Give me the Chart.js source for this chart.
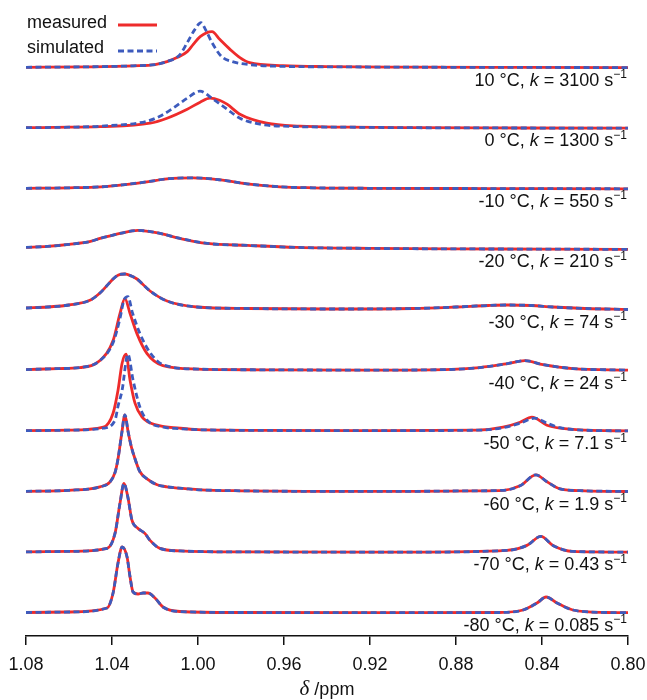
<!DOCTYPE html>
<html>
<head>
<meta charset="utf-8">
<script src="https://cdn.jsdelivr.net/npm/chart.js@4.4.1/dist/chart.umd.min.js"></script>
<style>
  body { margin: 0; background: #fff; }
</style>
</head>
<body>
<canvas id="nmrChart" width="647" height="700"></canvas>
<script>
// temperatures and exchange rates, top trace first
const temps = ['10', '0', '-10', '-20', '-30', '-40', '-50', '-60', '-70', '-80'];
const rates = ['3100', '1300', '550', '210', '74', '24', '7.1', '1.9', '0.43', '0.085'];
const xTicks = [0.80, 0.84, 0.88, 0.92, 0.96, 1.00, 1.04, 1.08];

// chemical shift (ppm) and signal height for each trace
const ppmMeas10 = [1.08, 1.05, 1.03, 1.02, 1.0144, 1.0098, 1.005, 1.0023, 0.999, 0.9935, 0.9898, 0.985, 0.9805, 0.976, 0.9605, 0.94, 0.90, 0.85, 0.80];
const meas10 = [0.3, 0.8, 1.8, 3, 6, 10, 16, 23, 31, 36, 28, 18, 10, 5, 2, 1, 0.5, 0.2, 0];
const ppmSim10 = [1.08, 1.05, 1.03, 1.02, 1.0144, 1.0084, 1.005, 1.0015, 0.9986, 0.9965, 0.9935, 0.989, 0.984, 0.976, 0.96, 0.94, 0.90, 0.85, 0.80];
const sim10 = [0.3, 0.8, 1.8, 3, 6, 13, 25, 38, 45, 38, 25, 11, 6, 3, 1.2, 0.8, 0.4, 0.2, 0];

const ppmMeas0 = [1.08, 1.06, 1.0456, 1.0223, 1.0144, 1.005, 0.999, 0.9944, 0.990, 0.9865, 0.9805, 0.968, 0.9526, 0.93, 0.90, 0.85, 0.80];
const meas0 = [0.5, 1, 1.5, 5, 10, 19, 26, 30, 28, 24, 14, 5, 2, 1, 0.5, 0.2, 0];
const ppmSim0 = [1.08, 1.06, 1.0456, 1.0237, 1.0177, 1.0116, 1.005, 0.9991, 0.993, 0.9865, 0.9805, 0.9712, 0.96, 0.93, 0.90, 0.85, 0.80];
const sim0 = [0.5, 1, 2, 7, 12, 20, 30, 37, 29, 19, 10, 4, 2, 1, 0.5, 0.2, 0];

const ppmM10 = [1.08, 1.06, 1.045, 1.035, 1.0237, 1.0144, 1.0023, 0.9898, 0.9772, 0.9619, 0.9465, 0.92, 0.88, 0.84, 0.80];
const valM10 = [0.5, 1, 2, 4, 7, 10, 11, 9, 5, 2, 1, 0.5, 0.3, 0.2, 0];

const ppmM20 = [1.08, 1.07, 1.06, 1.05, 1.0456, 1.04, 1.0363, 1.0279, 1.0177, 1.0084, 0.9958, 0.977, 0.954, 0.92, 0.88, 0.84, 0.80];
const valM20 = [2, 3, 5, 8, 11, 14, 16, 19, 16, 11, 6, 4, 2, 1, 0.5, 0.3, 0];

const ppmM30 = [1.08, 1.07, 1.06, 1.05, 1.0456, 1.0425, 1.0395, 1.037, 1.034, 1.031, 1.0284, 1.0223, 1.0144, 1.0005, 0.977, 0.94, 0.90, 0.88, 0.865, 0.856, 0.845, 0.835, 0.82, 0.80];
const valM30 = [2, 3, 5, 10, 17, 24, 31, 35, 36, 34, 31, 19, 9, 3, 1.5, 1, 1.5, 3, 4.5, 5, 4.5, 3, 1.5, 0.5];

const ppmMeasM40 = [1.08, 1.065, 1.0549, 1.0456, 1.0395, 1.0363, 1.034, 1.0316, 1.0284, 1.0237, 1.0163, 1.0, 0.97, 0.92, 0.885, 0.869, 0.856, 0.848, 0.8395, 0.8256, 0.80];
const measM40 = [1, 2, 3, 10, 30, 57, 72, 57, 37, 17, 5, 1.5, 0.8, 0.5, 1, 3, 7, 10, 6, 2, 0.5];
const ppmSimM40 = [1.08, 1.065, 1.0549, 1.0456, 1.0395, 1.0363, 1.0345, 1.0326, 1.0305, 1.027, 1.0223, 1.0163, 1.0, 0.97, 0.92, 0.885, 0.869, 0.856, 0.848, 0.8395, 0.8256, 0.80];
const simM40 = [1, 2, 3, 10, 28, 52, 70, 74, 58, 37, 18, 6, 1.5, 0.8, 0.5, 1, 3, 7, 10, 6, 2, 0.5];

const ppmMeasM50 = [1.08, 1.06, 1.044, 1.0395, 1.0372, 1.0353, 1.0335, 1.0316, 1.0293, 1.026, 1.019, 1.0084, 1.0, 0.97, 0.92, 0.87, 0.8581, 0.8502, 0.8447, 0.8377, 0.8316, 0.82, 0.80];
const measM50 = [0.5, 1, 4, 18, 41, 68, 77, 51, 28, 14, 6, 3, 1.5, 0.8, 0.5, 1, 4, 9, 14, 6, 3, 1, 0.3];
const ppmSimM50 = [1.08, 1.06, 1.044, 1.0386, 1.0372, 1.0353, 1.0326, 1.0302, 1.027, 1.0237, 1.016, 1.0084, 1.0, 0.97, 0.92, 0.87, 0.8581, 0.8502, 0.8433, 0.8377, 0.8316, 0.82, 0.80];
const simM50 = [0.5, 1, 3, 11, 25, 41, 77, 51, 24, 11, 4, 2.5, 1.5, 0.8, 0.5, 1, 3.5, 8, 13, 8, 3.5, 1, 0.3];

const ppmM60 = [1.08, 1.06, 1.0456, 1.0409, 1.0385, 1.0372, 1.0355, 1.034, 1.0325, 1.031, 1.0293, 1.027, 1.0237, 1.019, 1.0144, 1.005, 0.999, 0.98, 0.95, 0.90, 0.87, 0.858, 0.8502, 0.8428, 0.8377, 0.8316, 0.82, 0.80];
const valM60 = [0.5, 1.5, 5, 10, 20, 33, 58, 77, 60, 45, 33, 20, 13, 7, 5, 3, 2, 1, 0.5, 0.5, 1, 1.5, 6, 17, 10, 3, 1, 0.3];

const ppmM70 = [1.08, 1.06, 1.0423, 1.0386, 1.0363, 1.0344, 1.0326, 1.0307, 1.0279, 1.0247, 1.0223, 1.0177, 1.0084, 0.98, 0.90, 0.8563, 0.847, 0.8405, 0.8349, 0.8256, 0.80];
const valM70 = [0.5, 1, 4, 19, 49, 69, 55, 32, 24, 19, 12, 4, 1.5, 0.5, 0.3, 2, 7, 16, 7, 1, 0.3];

const ppmM80 = [1.08, 1.06, 1.0423, 1.0395, 1.0372, 1.0353, 1.033, 1.0316, 1.0302, 1.0279, 1.0255, 1.0233, 1.02, 1.0163, 1.0084, 0.98, 0.90, 0.86, 0.8488, 0.8423, 0.8381, 0.833, 0.8256, 0.81, 0.80];
const valM80 = [0.5, 1, 5, 20, 50, 66, 56, 36, 21, 19, 20, 20, 15, 6, 1.5, 0.5, 0.3, 0.5, 3, 10, 16, 10, 3, 0.5, 0.3];

// [ppm, values] for measured and simulated, same order as temps
const measured = [
  [ppmMeas10, meas10], [ppmMeas0, meas0], [ppmM10, valM10], [ppmM20, valM20], [ppmM30, valM30],
  [ppmMeasM40, measM40], [ppmMeasM50, measM50], [ppmM60, valM60], [ppmM70, valM70], [ppmM80, valM80]
];
const simulated = [
  [ppmSim10, sim10], [ppmSim0, sim0], [ppmM10, valM10], [ppmM20, valM20], [ppmM30, valM30],
  [ppmSimM40, simM40], [ppmSimM50, simM50], [ppmM60, valM60], [ppmM70, valM70], [ppmM80, valM80]
];

const RED = '#ee2b2b';
const BLUE = '#3d5bbd';
const SANS = '"Liberation Sans", Arial, sans-serif';
const base = 23, gap = 60.6;

function offsetOf(i) {
  return base + (temps.length - 1 - i) * gap;
}

function toPoints(pair, off) {
  return pair[0].map((p, j) => ({ x: p, y: off + pair[1][j] }));
}

const datasets = [];
temps.forEach((t, i) => {
  const off = offsetOf(i);
  datasets.push({
    data: toPoints(measured[i], off),
    borderColor: RED,
    borderWidth: 2.8,
    order: 1
  });
  datasets.push({
    data: toPoints(simulated[i], off),
    borderColor: BLUE,
    borderWidth: 2.8,
    borderDash: [6, 3.5],
    order: 0
  });
});

function drawRich(ctx, parts, right, y) {
  let total = 0;
  parts.forEach(p => { ctx.font = p.font; p.w = ctx.measureText(p.t).width; total += p.w; });
  let x = right - total;
  parts.forEach(p => {
    ctx.font = p.font;
    ctx.fillText(p.t, x, y + (p.dy || 0));
    x += p.w;
  });
}

const textPlugin = {
  id: 'nmrText',
  afterDraw(chart) {
    const ctx = chart.ctx;
    const yScale = chart.scales.y;
    const area = chart.chartArea;
    ctx.save();
    ctx.fillStyle = '#111';
    ctx.textAlign = 'left';
    ctx.textBaseline = 'middle';

    // legend
    ctx.font = '18px ' + SANS;
    ctx.fillText('measured', 27, 23);
    ctx.fillText('simulated', 27, 48);
    ctx.lineWidth = 2.8;
    ctx.strokeStyle = RED;
    ctx.beginPath(); ctx.moveTo(118, 25); ctx.lineTo(157, 25); ctx.stroke();
    ctx.strokeStyle = BLUE;
    ctx.setLineDash([6, 3.5]);
    ctx.beginPath(); ctx.moveTo(118, 51); ctx.lineTo(157, 51); ctx.stroke();
    ctx.setLineDash([]);

    // trace labels
    temps.forEach((t, i) => {
      const y = yScale.getPixelForValue(offsetOf(i)) + 13;
      drawRich(ctx, [
        { t: t + ' \u00B0C, ', font: '18px ' + SANS },
        { t: 'k', font: 'italic 18px ' + SANS },
        { t: ' = ' + rates[i] + ' s', font: '18px ' + SANS },
        { t: '\u22121', font: '12px ' + SANS, dy: -6 }
      ], area.right - 1, y);
    });

    // axis title
    const cx = (area.left + area.right) / 2;
    ctx.font = 'italic 21px "Liberation Serif", serif';
    const dw = ctx.measureText('\u03B4').width;
    ctx.font = '18px ' + SANS;
    const pw = ctx.measureText(' /ppm').width;
    const x0 = cx - (dw + pw) / 2;
    ctx.font = 'italic 21px "Liberation Serif", serif';
    ctx.fillText('\u03B4', x0, 689);
    ctx.font = '18px ' + SANS;
    ctx.fillText(' /ppm', x0 + dw, 690);
    ctx.restore();
  }
};

new Chart(document.getElementById('nmrChart'), {
  type: 'line',
  data: { datasets: datasets },
  options: {
    responsive: false,
    animation: false,
    layout: { padding: { left: 26, right: 19, top: 0, bottom: 0 } },
    elements: {
      point: { radius: 0 },
      line: { cubicInterpolationMode: 'monotone', fill: false, borderCapStyle: 'butt' }
    },
    plugins: {
      legend: { display: false },
      tooltip: { enabled: false }
    },
    scales: {
      x: {
        type: 'linear',
        reverse: true,
        min: 0.80,
        max: 1.08,
        afterBuildTicks: scale => { scale.ticks = xTicks.map(v => ({ value: v })); },
        afterFit: scale => { scale.height = 64; },
        ticks: {
          callback: v => v.toFixed(2),
          font: { size: 18, family: SANS },
          color: '#111',
          padding: 9,
          maxRotation: 0
        },
        grid: {
          drawOnChartArea: false,
          drawTicks: true,
          tickLength: 9,
          color: '#111',
          lineWidth: 1.5
        },
        border: { display: true, color: '#111', width: 1.5 }
      },
      y: {
        display: false,
        min: 0,
        max: 636
      }
    }
  },
  plugins: [textPlugin]
});
</script>
</body>
</html>
